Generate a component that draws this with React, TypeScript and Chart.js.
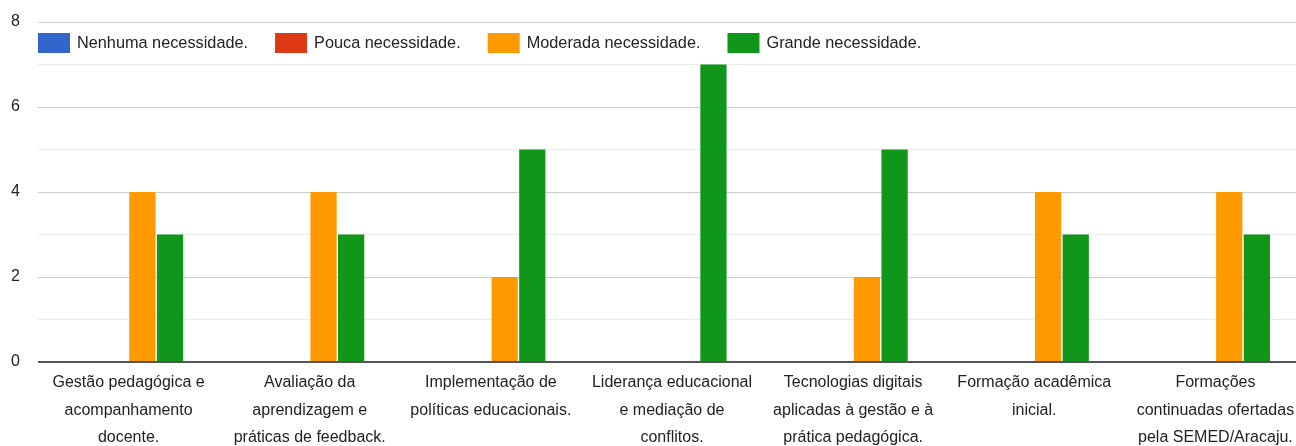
import React, { useEffect, useRef } from 'react';
import { Chart, registerables } from 'chart.js';

Chart.register(...registerables);

const categories: string[][] = [
  ['Gestão pedagógica e', 'acompanhamento', 'docente.'],
  ['Avaliação da', 'aprendizagem e', 'práticas de feedback.'],
  ['Implementação de', 'políticas educacionais.'],
  ['Liderança educacional', 'e mediação de', 'conflitos.'],
  ['Tecnologias digitais', 'aplicadas à gestão e à', 'prática pedagógica.'],
  ['Formação acadêmica', 'inicial.'],
  ['Formações', 'continuadas ofertadas', 'pela SEMED/Aracaju.'],
];

const seriesNames = ['Nenhuma necessidade.', 'Pouca necessidade.', 'Moderada necessidade.', 'Grande necessidade.'];
const seriesColors = ['#3366cc', '#dc3912', '#ff9900', '#109618'];

const nenhuma = [0, 0, 0, 0, 0, 0, 0];
const pouca = [0, 0, 0, 0, 0, 0, 0];
const moderada = [4, 4, 2, 0, 2, 4, 4];
const grande = [3, 3, 5, 7, 5, 3, 3];

const yTickLabels = [0, 2, 4, 6, 8];

const FONT = '"Liberation Sans", Arial, sans-serif';
const TEXT = '#222222';

const overlayLegend = {
  id: 'overlayLegend',
  afterDraw(chart: any) {
    const ctx = chart.ctx;
    ctx.save();
    ctx.font = `16.3px ${FONT}`;
    ctx.textBaseline = 'middle';
    ctx.textAlign = 'left';
    let x = chart.chartArea.left;
    const top = 33;
    chart.data.datasets.forEach((ds: any) => {
      ctx.fillStyle = ds.backgroundColor;
      ctx.fillRect(x, top, 32, 20);
      ctx.fillStyle = TEXT;
      ctx.fillText(ds.label, x + 39, top + 10.5);
      x += 39 + ctx.measureText(ds.label).width + 27;
    });
    ctx.restore();
  },
};

export default function App() {
  const ref = useRef<HTMLCanvasElement | null>(null);

  useEffect(() => {
    if (!ref.current) return;
    const seriesValues = [nenhuma, pouca, moderada, grande];
    const chart = new Chart(ref.current, {
      type: 'bar',
      data: {
        labels: categories,
        datasets: seriesNames.map((name, i) => ({
          label: name,
          data: seriesValues[i],
          backgroundColor: seriesColors[i],
          borderWidth: 0,
          categoryPercentage: 0.61,
          barPercentage: 0.95,
        })),
      },
      options: {
        animation: false,
        responsive: true,
        maintainAspectRatio: false,
        layout: { padding: { top: 22, left: 0, right: 4, bottom: 0 } },
        plugins: {
          legend: { display: false },
          tooltip: { enabled: false },
        },
        scales: {
          x: {
            grid: { display: false, drawTicks: false },
            border: { display: false },
            ticks: {
              color: TEXT,
              font: { family: FONT, size: 16, lineHeight: 1.72 },
              padding: 7,
              maxRotation: 0,
              autoSkip: false,
            },
            afterFit: (s: any) => {
              s.height = 84;
            },
          },
          y: {
            min: 0,
            max: 8,
            grid: {
              drawTicks: false,
              color: (c: any) => {
                const v = c.tick.value;
                if (v === 0) return '#555555';
                return v % 2 === 0 ? '#cccccc' : '#ebebeb';
              },
              lineWidth: (c: any) => (c.tick.value === 0 ? 2 : 1),
            },
            border: { display: false },
            ticks: {
              stepSize: 1,
              color: TEXT,
              padding: 18,
              font: { family: FONT, size: 16 },
              callback: (v: any) => (yTickLabels.includes(Number(v)) ? String(v) : ''),
            },
            afterFit: (s: any) => {
              s.width = 38;
              s.paddingTop = 0;
              s.paddingBottom = 0;
            },
          },
        },
      },
      plugins: [overlayLegend],
    });
    return () => chart.destroy();
  }, []);

  return (
    <div style={{ position: 'fixed', left: 0, top: 0, width: 1296, height: 446, overflow: 'hidden', background: '#fff' }}>
      <div style={{ position: 'relative', width: 1310, height: 446 }}>
        <canvas ref={ref} />
      </div>
    </div>
  );
}
